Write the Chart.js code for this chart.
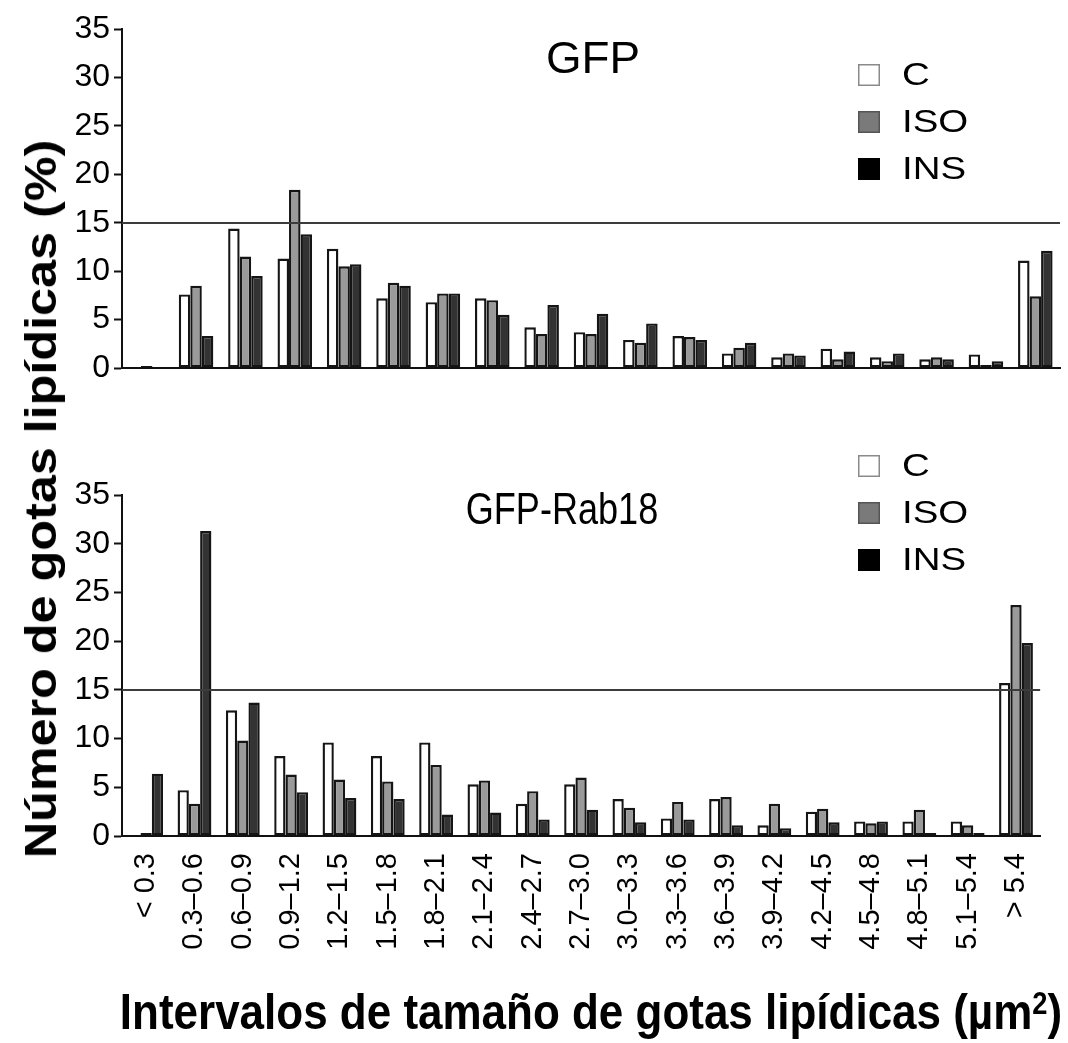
<!DOCTYPE html>
<html>
<head>
<meta charset="utf-8">
<script src="https://cdn.jsdelivr.net/npm/chart.js@4.4.1/dist/chart.umd.min.js"></script>
<style>
  html, body { margin: 0; padding: 0; background: #fff; }
  body { width: 1068px; height: 1043px; position: relative; overflow: hidden;
         font-family: "Liberation Sans", Arial, sans-serif; }
  canvas { position: absolute; left: 0; }
  .axis-title { position: absolute; white-space: nowrap; font-weight: bold; color: #000;
                line-height: 1; font-family: "Liberation Sans", Arial, sans-serif; }
  .axis-title sup { font-size: 0.62em; vertical-align: 0.5em; line-height: 0; }
</style>
</head>
<body>
<canvas id="gfp" width="1068" height="400" style="top:0"></canvas>
<canvas id="rab" width="1068" height="643" style="top:400px"></canvas>
<div id="ytitle" class="axis-title" style="font-size:44px">Número de gotas lipídicas (%)</div>
<div id="xtitle" class="axis-title" style="font-size:50px">Intervalos de tamaño de gotas lipídicas (µm<sup>2</sup>)</div>

<script>
// Size intervals of lipid droplets (µm²)
const categories = ['< 0.3', '0.3–0.6', '0.6–0.9', '0.9–1.2', '1.2–1.5', '1.5–1.8', '1.8–2.1',
  '2.1–2.4', '2.4–2.7', '2.7–3.0', '3.0–3.3', '3.3–3.6', '3.6–3.9', '3.9–4.2', '4.2–4.5',
  '4.5–4.8', '4.8–5.1', '5.1–5.4', '> 5.4'];

const seriesNames = ['C', 'ISO', 'INS'];

// GFP panel (% of lipid droplets)
const gfpC   = [0.1, 7.6, 14.4, 11.3, 12.3, 7.2, 6.8, 7.2, 4.2, 3.7, 2.9, 3.3, 1.5, 1.1, 2.0, 1.1, 0.9, 1.4, 11.1];
const gfpIso = [0.2, 8.5, 11.5, 18.4, 10.5, 8.8, 7.7, 7.0, 3.5, 3.5, 2.6, 3.2, 2.1, 1.5, 0.9, 0.7, 1.1, 0.3, 7.4];
const gfpIns = [0.0, 3.3, 9.5, 13.8, 10.7, 8.5, 7.7, 5.5, 6.5, 5.6, 4.6, 2.9, 2.6, 1.3, 1.7, 1.5, 0.9, 0.7, 12.1];

// GFP-Rab18 panel (% of lipid droplets)
const rabC   = [0.0, 4.7, 12.9, 8.2, 9.6, 8.2, 9.6, 5.3, 3.3, 5.3, 3.8, 1.8, 3.8, 1.1, 2.5, 1.5, 1.5, 1.5, 15.7];
const rabIso = [0.3, 3.3, 9.8, 6.3, 5.8, 5.6, 7.3, 5.7, 4.6, 6.0, 2.9, 3.5, 4.0, 3.3, 2.8, 1.3, 2.7, 1.1, 23.7];
const rabIns = [6.4, 31.3, 13.7, 4.5, 3.9, 3.8, 2.2, 2.4, 1.7, 2.7, 1.4, 1.7, 1.1, 0.8, 1.4, 1.5, 0.3, 0.3, 19.8];

// Value axis
const yMin = 0, yMax = 35, yStep = 5;
const referenceLevel = 15;

const FONT = '"Liberation Sans", Arial, sans-serif';
const barFill    = ['#ffffff', '#9a9a9a', '#333333'];
const legendFill = ['#ffffff', '#7a7a7a', '#000000'];
const legendEdge = ['#8a8a8a', '#555555', '#000000'];

// Horizontally stretched text, anchored by its left edge or centre
function drawWideText(ctx, text, x, y, sx, align) {
  ctx.save();
  ctx.translate(x, y);
  ctx.scale(sx, 1);
  ctx.textAlign = align;
  ctx.fillText(text, 0, 0);
  ctx.restore();
}

// Reference line, panel title and legend drawn over the bars
const panelDecor = {
  id: 'panelDecor',
  afterDatasetsDraw(chart, args, o) {
    const { ctx, chartArea, scales } = chart;
    ctx.save();
    const py = Math.round(scales.y.getPixelForValue(o.level));
    ctx.strokeStyle = '#3c3c3c';
    ctx.lineWidth = 2;
    ctx.beginPath();
    ctx.moveTo(chartArea.left, py);
    ctx.lineTo(chartArea.right, py);
    ctx.stroke();

    ctx.fillStyle = '#000';
    ctx.font = o.titleSize + 'px ' + FONT;
    ctx.textBaseline = 'alphabetic';
    drawWideText(ctx, o.title, o.titleX, o.titleY, o.titleScale, 'center');

    ctx.font = '31px ' + FONT;
    ctx.textBaseline = 'middle';
    chart.data.datasets.forEach((ds, i) => {
      const by = o.legendY + i * o.legendGap;
      ctx.fillStyle = legendFill[i];
      ctx.fillRect(o.legendX, by, 22, 22);
      ctx.strokeStyle = legendEdge[i];
      ctx.lineWidth = 1.5;
      ctx.strokeRect(o.legendX + 0.75, by + 0.75, 20.5, 20.5);
      ctx.fillStyle = '#000';
      drawWideText(ctx, ds.label, o.legendX + 44, by + 12, 1.24, 'left');
    });
    ctx.restore();
  }
};

function makePanel(id, c, iso, ins, cfg) {
  const values = [c, iso, ins];
  return new Chart(document.getElementById(id), {
    type: 'bar',
    data: {
      labels: categories,
      datasets: seriesNames.map((name, i) => ({
        label: name,
        data: values[i],
        backgroundColor: barFill[i],
        borderColor: '#151515',
        borderWidth: 2.4,
        borderSkipped: false,
        categoryPercentage: 0.7,
        barPercentage: 1.0
      }))
    },
    options: {
      responsive: false,
      animation: false,
      layout: { padding: { left: 0, right: 8, top: cfg.padTop, bottom: 0 } },
      plugins: {
        legend: { display: false },
        tooltip: { enabled: false },
        panelDecor: {
          level: referenceLevel,
          title: cfg.title, titleX: cfg.titleX, titleY: cfg.titleY,
          titleSize: cfg.titleSize, titleScale: cfg.titleScale,
          legendX: 858, legendY: cfg.legendY, legendGap: 47
        }
      },
      scales: {
        x: {
          grid: { display: true, drawOnChartArea: false, drawTicks: false },
          border: { display: true, color: '#111', width: 2 },
          ticks: {
            display: cfg.showLabels,
            autoSkip: false,
            minRotation: 90,
            maxRotation: 90,
            padding: 17,
            color: '#000',
            font: { family: FONT, size: 29 }
          },
          afterFit(scale) { scale.height = cfg.xHeight; }
        },
        y: {
          min: yMin, max: yMax,
          grid: { display: true, drawOnChartArea: false, drawTicks: true,
                  tickLength: 8, tickWidth: 2, tickColor: '#111' },
          border: { display: true, color: '#111', width: 2 },
          ticks: {
            stepSize: yStep,
            padding: 4,
            color: '#000',
            font: { family: FONT, size: 32 }
          },
          afterFit(scale) { scale.width = 122; }
        }
      }
    },
    plugins: [panelDecor]
  });
}

makePanel('gfp', gfpC, gfpIso, gfpIns, {
  title: 'GFP', titleX: 593, titleY: 73, titleSize: 44, titleScale: 1.04, legendY: 64,
  padTop: 29, xHeight: 32, showLabels: false
});

makePanel('rab', rabC, rabIso, rabIns, {
  title: 'GFP-Rab18', titleX: 562, titleY: 124, titleSize: 44, titleScale: 0.82, legendY: 55,
  padTop: 95, xHeight: 207, showLabels: true
});

// Shared axis titles, stretched to span the plots
function placeTitle(el, cx, cy, length, rotate) {
  const natural = el.offsetWidth;
  const k = length / natural;
  el.style.left = cx + 'px';
  el.style.top = cy + 'px';
  el.style.transform = 'translate(-50%, -50%)' + (rotate ? ' rotate(-90deg)' : '') + ' scaleX(' + k + ')';
}
placeTitle(document.getElementById('ytitle'), 41, 499, 718, true);
placeTitle(document.getElementById('xtitle'), 591, 1012, 942, false);
</script>
</body>
</html>
